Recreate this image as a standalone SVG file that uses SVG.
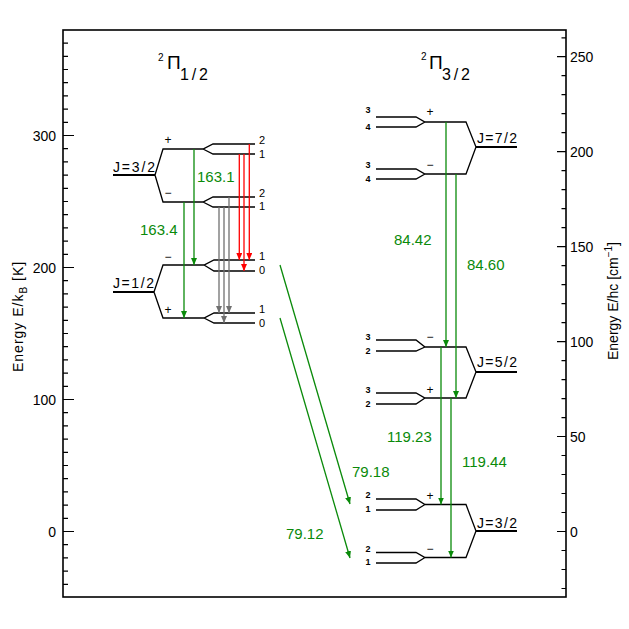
<svg xmlns="http://www.w3.org/2000/svg" width="629" height="629" viewBox="0 0 629 629">
<style>
text{font-family:"Liberation Sans",Arial,sans-serif;fill:#000}
.ax{font-size:14px}
.lv{fill:none;stroke:#000;stroke-width:1.3}
.stem{fill:none;stroke:#000;stroke-width:2}
.hf{font-size:11px}
.hfr{font-size:9px;font-weight:bold}
.par{font-size:12px}
.jl{font-size:14px}
.g{stroke:#0a8a0a;stroke-width:1.3;fill:none}
.r{stroke:#ff0000;stroke-width:1.3;fill:none}
.k{stroke:#707070;stroke-width:1.3;fill:none}
.gt{font-size:15px;fill:#0a8a0a}
</style>
<defs>
<marker id="ag" markerUnits="userSpaceOnUse" markerWidth="7" markerHeight="6" refX="7" refY="3" orient="auto"><path d="M0,0 L7,3 L0,6 z" fill="#0a8a0a"/></marker>
<marker id="ar" markerUnits="userSpaceOnUse" markerWidth="7" markerHeight="6" refX="7" refY="3" orient="auto"><path d="M0,0 L7,3 L0,6 z" fill="#ff0000"/></marker>
<marker id="ak" markerUnits="userSpaceOnUse" markerWidth="7" markerHeight="6" refX="7" refY="3" orient="auto"><path d="M0,0 L7,3 L0,6 z" fill="#707070"/></marker>
</defs>
<rect width="629" height="629" fill="#fff"/>
<g id="axes">
<rect x="63" y="30" width="503" height="567" fill="none" stroke="#000" stroke-width="1.6"/>
<path stroke="#000" stroke-width="1.2" d="M63,584.3h5M63,571.1h5M63,557.9h5M63,544.7h5M63,518.3h5M63,505.1h5M63,491.9h5M63,478.7h5M63,465.5h5M63,452.3h5M63,439.1h5M63,425.9h5M63,412.7h5M63,386.3h5M63,373.1h5M63,359.9h5M63,346.7h5M63,333.5h5M63,320.3h5M63,307.1h5M63,293.9h5M63,280.7h5M63,254.3h5M63,241.1h5M63,227.9h5M63,214.7h5M63,201.5h5M63,188.3h5M63,175.1h5M63,161.9h5M63,148.7h5M63,122.3h5M63,109.1h5M63,95.9h5M63,82.7h5M63,69.5h5M63,56.3h5M63,43.1h5M63,531.5h11M63,399.5h11M63,267.5h11M63,135.5h11"/>
<path stroke="#000" stroke-width="1.2" d="M566,588.5h-4.5M566,569.5h-4.5M566,550.5h-4.5M566,512.5h-4.5M566,493.5h-4.5M566,474.5h-4.5M566,455.5h-4.5M566,417.6h-4.5M566,398.6h-4.5M566,379.6h-4.5M566,360.6h-4.5M566,322.6h-4.5M566,303.6h-4.5M566,284.6h-4.5M566,265.6h-4.5M566,227.7h-4.5M566,208.7h-4.5M566,189.7h-4.5M566,170.7h-4.5M566,132.7h-4.5M566,113.7h-4.5M566,94.7h-4.5M566,75.7h-4.5M566,37.8h-4.5M566,531.5h-9M566,436.5h-9M566,341.6h-9M566,246.7h-9M566,151.7h-9M566,56.7h-9"/>
<g class="ax" text-anchor="end">
<text x="56" y="140.5">300</text><text x="56" y="272.5">200</text><text x="56" y="404.5">100</text><text x="56" y="536.5">0</text>
</g>
<g class="ax">
<text x="570" y="61.7">250</text><text x="570" y="156.7">200</text><text x="570" y="251.7">150</text><text x="570" y="346.6">100</text><text x="570" y="441.5">50</text><text x="570" y="536.5">0</text>
</g>
<text class="ax" letter-spacing="1" transform="translate(23,372) rotate(-90)">Energy E/k<tspan dy="4" font-size="10">B</tspan><tspan dy="-4"> [K]</tspan></text>
<text class="ax" transform="translate(618,360) rotate(-90)">Energy E/hc [cm<tspan dy="-6" font-size="10">−1</tspan><tspan dy="6">]</tspan></text>
</g>
<g id="title-left">
<text x="158" y="61" font-size="10">2</text>
<text x="167" y="69" font-size="19">Π</text>
<text x="180" y="80" font-size="16" textLength="28">1/2</text>
</g>
<g id="title-right">
<text x="421" y="60" font-size="10">2</text>
<text x="429" y="69" font-size="19">Π</text>
<text x="442" y="80" font-size="16" textLength="28">3/2</text>
</g>
<g id="pi12-J32">
<path class="stem" d="M113,175H155"/>
<path class="lv" d="M155,175L163,149H203L213,144H255M203,149L213,154H255M155,175L163,202H203L213,197H255M203,202L213,207H255"/>
<text class="jl" x="113" y="172" textLength="42">J=3/2</text>
<text class="par" x="168" y="144" text-anchor="middle">+</text>
<text class="par" x="168" y="197" text-anchor="middle">−</text>
<text class="hf" x="259" y="144">2</text><text class="hf" x="259" y="157.5">1</text>
<text class="hf" x="259" y="197">2</text><text class="hf" x="259" y="209.5">1</text>
</g>
<g id="pi12-J12">
<path class="stem" d="M113,292H154"/>
<path class="lv" d="M154,292L163,265H204L214,260H255M204,265L214,271H255M154,292L163,318H204L214,313H255M204,318L214,323H255"/>
<text class="jl" x="113" y="288" textLength="41">J=1/2</text>
<text class="par" x="168" y="260.5" text-anchor="middle">−</text>
<text class="par" x="168" y="314" text-anchor="middle">+</text>
<text class="hf" x="259" y="259.5">1</text><text class="hf" x="259" y="274">0</text>
<text class="hf" x="259" y="313">1</text><text class="hf" x="259" y="327">0</text>
</g>
<g id="pi32-J72">
<path class="stem" d="M476,147H517"/>
<path class="lv" d="M376,117H416L425,122H466L476,147L466,174H425L416,169H376M376,127H416L425,122M376,179H416L425,174"/>
<text class="jl" x="477" y="143" textLength="40">J=7/2</text>
<text class="par" x="430" y="116" text-anchor="middle">+</text>
<text class="par" x="430" y="168.5" text-anchor="middle">−</text>
<text class="hfr" x="368" y="113" text-anchor="middle">3</text><text class="hfr" x="368" y="130" text-anchor="middle">4</text>
<text class="hfr" x="368" y="168" text-anchor="middle">3</text><text class="hfr" x="368" y="181.5" text-anchor="middle">4</text>
</g>
<g id="pi32-J52">
<path class="stem" d="M476,372H517"/>
<path class="lv" d="M376,340H416L425,347H466L476,372L466,398H425L416,393H376M376,351H416L425,347M376,404H416L425,398"/>
<text class="jl" x="477" y="367" textLength="40">J=5/2</text>
<text class="par" x="430" y="341" text-anchor="middle">−</text>
<text class="par" x="430" y="394" text-anchor="middle">+</text>
<text class="hfr" x="368" y="340" text-anchor="middle">3</text><text class="hfr" x="368" y="354" text-anchor="middle">2</text>
<text class="hfr" x="368" y="392.5" text-anchor="middle">3</text><text class="hfr" x="368" y="406.5" text-anchor="middle">2</text>
</g>
<g id="pi32-J32">
<path class="stem" d="M476,531H517"/>
<path class="lv" d="M376,499H416L425,504.5H466L476,531L466,557.5H425L416,552.5H376M376,510H416L425,504.5M376,563H416L425,557.5"/>
<text class="jl" x="477" y="528" textLength="40">J=3/2</text>
<text class="par" x="430" y="500" text-anchor="middle">+</text>
<text class="par" x="430" y="552.5" text-anchor="middle">−</text>
<text class="hfr" x="368" y="498" text-anchor="middle">2</text><text class="hfr" x="368" y="512" text-anchor="middle">1</text>
<text class="hfr" x="368" y="551.5" text-anchor="middle">2</text><text class="hfr" x="368" y="565" text-anchor="middle">1</text>
</g>
<g id="connectors">
<path class="g" d="M194,149V265" marker-end="url(#ag)"/>
<path class="g" d="M184,202V318" marker-end="url(#ag)"/>
<path class="r" d="M239.3,154V260" marker-end="url(#ar)"/>
<path class="r" d="M244,154V271" marker-end="url(#ar)"/>
<path class="r" d="M249.3,144V260" marker-end="url(#ar)"/>
<path class="k" d="M219,207V313" marker-end="url(#ak)"/>
<path class="k" d="M224,207V323" marker-end="url(#ak)"/>
<path class="k" d="M229,197V313" marker-end="url(#ak)"/>
<path class="g" d="M280,265L350,504" marker-end="url(#ag)"/>
<path class="g" d="M280,318L350,558" marker-end="url(#ag)"/>
<path class="g" d="M446,122V347" marker-end="url(#ag)"/>
<path class="g" d="M456,174V398" marker-end="url(#ag)"/>
<path class="g" d="M441,347V504.5" marker-end="url(#ag)"/>
<path class="g" d="M451,398V557.5" marker-end="url(#ag)"/>
<text class="gt" x="197" y="182">163.1</text>
<text class="gt" x="140" y="235">163.4</text>
<text class="gt" x="394" y="245">84.42</text>
<text class="gt" x="467" y="270">84.60</text>
<text class="gt" x="387" y="442">119.23</text>
<text class="gt" x="462" y="467">119.44</text>
<text class="gt" x="352" y="477">79.18</text>
<text class="gt" x="286" y="539">79.12</text>
</g>
</svg>
